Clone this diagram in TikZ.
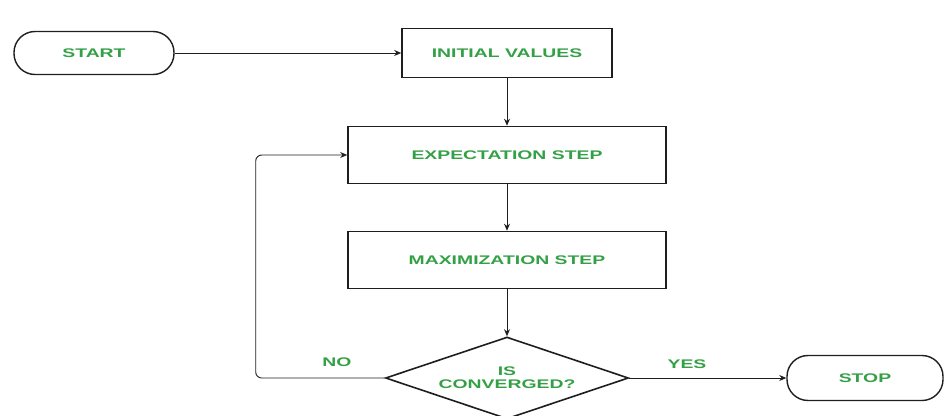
\documentclass[tikz,border=0pt]{standalone}
\usepackage{fontspec}
\usetikzlibrary{shapes.geometric,arrows.meta}
\newfontfamily\lblfont{Liberation Sans Bold}[FakeStretch=1.55]
\definecolor{txtgreen}{RGB}{52,160,70}
\definecolor{linegray}{RGB}{30,30,30}
\tikzset{
  lbl/.style={font=\lblfont\fontsize{12.5}{14}\selectfont, text=txtgreen},
  termbox/.style={lbl, draw=linegray, line width=1.4pt, rectangle, rounded corners=21pt,
    minimum width=160pt, minimum height=43pt, inner sep=0pt},
  procbox/.style={lbl, draw=linegray, line width=1.6pt, rectangle,
    minimum height=56pt, inner sep=0pt},
  decbox/.style={lbl, draw=linegray, line width=1.6pt, diamond, aspect=3,
    minimum width=243pt, minimum height=82pt, inner sep=0pt, align=center},
  arr/.style={draw=linegray, line width=0.9pt, -{Stealth[length=7pt,width=6pt]}},
  edgelbl/.style={lbl}
}
\begin{document}
\begin{tikzpicture}[x=1pt,y=-1pt]
\useasboundingbox (0,0) rectangle (945,415);
\node[termbox] (start) at (94,53) {START};
\node[procbox, minimum width=210pt, minimum height=49pt] (init) at (507,53) {INITIAL VALUES};
\node[procbox, minimum width=318pt, minimum height=57pt] (exp) at (507,155) {EXPECTATION STEP};
\node[procbox, minimum width=318pt, minimum height=57pt] (max) at (507,260) {MAXIMIZATION STEP};
\node[decbox] (dec) at (507,378) {IS\\[-1pt]CONVERGED?};
\node[termbox, minimum width=156pt, minimum height=45pt] (stop) at (865,378) {STOP};
\node[edgelbl] (no) at (337,362) {NO};
\node[edgelbl] (yes) at (687,364) {YES};
\draw[arr] (start.east) -- (init.west);
\draw[arr] (init.south) -- (exp.north);
\draw[arr] (exp.south) -- (max.north);
\draw[arr] (max.south) -- (dec.north);
\draw[arr] (dec.east) -- (stop.west);
\draw[arr, rounded corners=6pt] (dec.west) -- ++(-129,0) |- (exp.west);
\end{tikzpicture}
\end{document}
